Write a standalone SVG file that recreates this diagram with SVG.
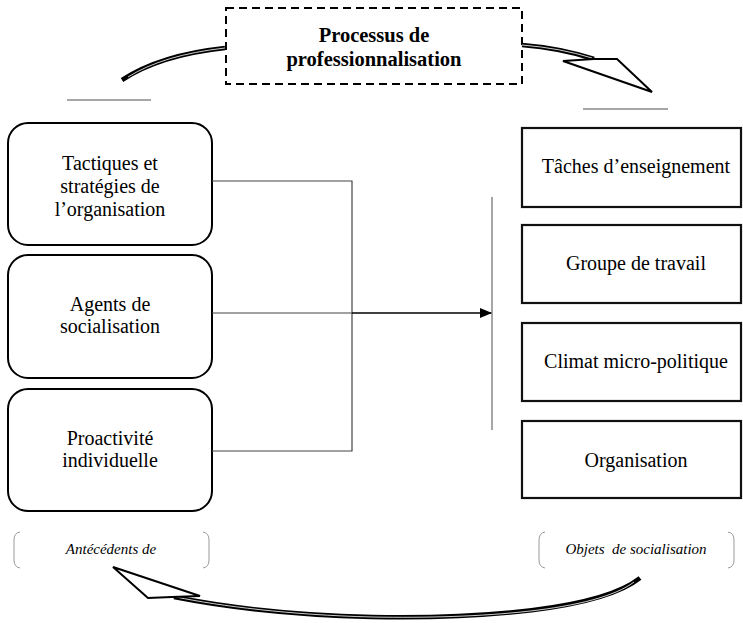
<svg xmlns="http://www.w3.org/2000/svg" width="743" height="623" viewBox="0 0 743 623">
<style>
  .bg{fill:#fff}
  .rbox{fill:#fff;stroke:#000;stroke-width:2}
  .sbox{fill:#fff;stroke:#111;stroke-width:2.2}
  .t{font-family:"Liberation Serif","Times New Roman",serif;font-size:20px;fill:#000;text-anchor:middle}
  .tb{font-family:"Liberation Serif","Times New Roman",serif;font-size:20.5px;font-weight:bold;fill:#000;text-anchor:middle}
  .ti{font-family:"Liberation Serif","Times New Roman",serif;font-size:15px;font-style:italic;fill:#000;text-anchor:middle}
  .conn{fill:none;stroke:#444;stroke-width:1.2}
  .gray{fill:none;stroke:#888;stroke-width:1.5}
  .brk{fill:none;stroke:#999;stroke-width:1}
  .band{fill:none;stroke:#000;stroke-width:4.5;stroke-linecap:butt}
  .bandin{fill:none;stroke:#fff;stroke-width:0.8}
  .head{fill:#fff;stroke:#000;stroke-width:2;stroke-linejoin:miter}
</style>
<defs>
  <marker id="arr" markerWidth="12" markerHeight="10" refX="12" refY="5" orient="auto" markerUnits="userSpaceOnUse">
    <path d="M0,0 L12,5 L0,10 Z" fill="#000"/>
  </marker>
</defs>
<rect class="bg" x="0" y="0" width="743" height="623"/>

<g id="processus">
  <rect x="226" y="8" width="296" height="76" fill="#fff" stroke="#000" stroke-width="2" stroke-dasharray="8,5"/>
  <text class="tb" x="374" y="42">Processus de</text>
  <text class="tb" x="374" y="66">professionnalisation</text>
</g>

<g id="tactiques">
  <rect class="rbox" x="8" y="123" width="204" height="122" rx="20" ry="20"/>
  <text class="t" x="110" y="170">Tactiques et</text>
  <text class="t" x="110" y="193">stratégies de</text>
  <text class="t" x="110" y="216">l’organisation</text>
</g>
<g id="agents">
  <rect class="rbox" x="8" y="255" width="204" height="123" rx="20" ry="20"/>
  <text class="t" x="110" y="311">Agents de</text>
  <text class="t" x="110" y="333">socialisation</text>
</g>
<g id="proactivite">
  <rect class="rbox" x="8" y="389" width="204" height="122" rx="20" ry="20"/>
  <text class="t" x="110" y="445">Proactivité</text>
  <text class="t" x="110" y="467">individuelle</text>
</g>

<g id="taches">
  <rect class="sbox" x="522" y="128" width="219" height="79"/>
  <text class="t" x="636" y="173">Tâches d’enseignement</text>
</g>
<g id="groupe">
  <rect class="sbox" x="522" y="225" width="219" height="78"/>
  <text class="t" x="636" y="270">Groupe de travail</text>
</g>
<g id="climat">
  <rect class="sbox" x="522" y="323" width="219" height="78"/>
  <text class="t" x="636" y="368">Climat micro-politique</text>
</g>
<g id="organisation">
  <rect class="sbox" x="522" y="421" width="219" height="77"/>
  <text class="t" x="636" y="467">Organisation</text>
</g>

<g id="label-antecedents">
  <path class="brk" d="M20,532 Q14,533 14,540 L14,560 Q14,567 20,568"/>
  <path class="brk" d="M203,532 Q209,533 209,540 L209,560 Q209,567 203,568"/>
  <text class="ti" x="111" y="554">Antécédents de</text>
</g>
<g id="label-objets">
  <path class="brk" d="M545,532 Q539,533 539,540 L539,560 Q539,567 545,568"/>
  <path class="brk" d="M728,532 Q734,533 734,540 L734,560 Q734,567 728,568"/>
  <text class="ti" x="636" y="554">Objets&#160; de socialisation</text>
</g>

<g id="connectors">
  <path class="conn" d="M212,181 L352,181 L352,451 L212,451"/>
  <path class="conn" d="M212,313 L352,313"/>
  <path d="M352,313 L492,313" fill="none" stroke="#000" stroke-width="1.5" marker-end="url(#arr)"/>
  <line class="gray" x1="492" y1="197" x2="492" y2="430"/>
  <line class="gray" x1="67" y1="100" x2="151" y2="100"/>
  <line class="gray" x1="583" y1="109" x2="668" y2="109"/>

  <!-- top-left curved band -->
  <path class="band" d="M122,80 Q160,55 225,48" stroke-width="5"/>
  <path class="bandin" d="M128,77 Q163,55 225,48"/>
  <!-- top-right curved arrow -->
  <path class="band" d="M522,45 Q560,48 594,59" stroke-width="3.5"/>
  <path class="bandin" d="M522,45 Q560,48 592,58"/>
  <path class="head" d="M563,61 L594,59 L617,59 L652,92 Z"/>
  <!-- bottom curved arrow -->
  <path class="band" d="M640,578 C600,610 480,619 372,617 C290,615 220,606 174,597" stroke-width="5"/>
  <path class="bandin" d="M634,582 C596,611 480,619 372,617 C290,615 220,606 176,597"/>
  <path class="head" d="M113,567 L200,596 L172,597 L148,598 Z"/>
</g>
</svg>
